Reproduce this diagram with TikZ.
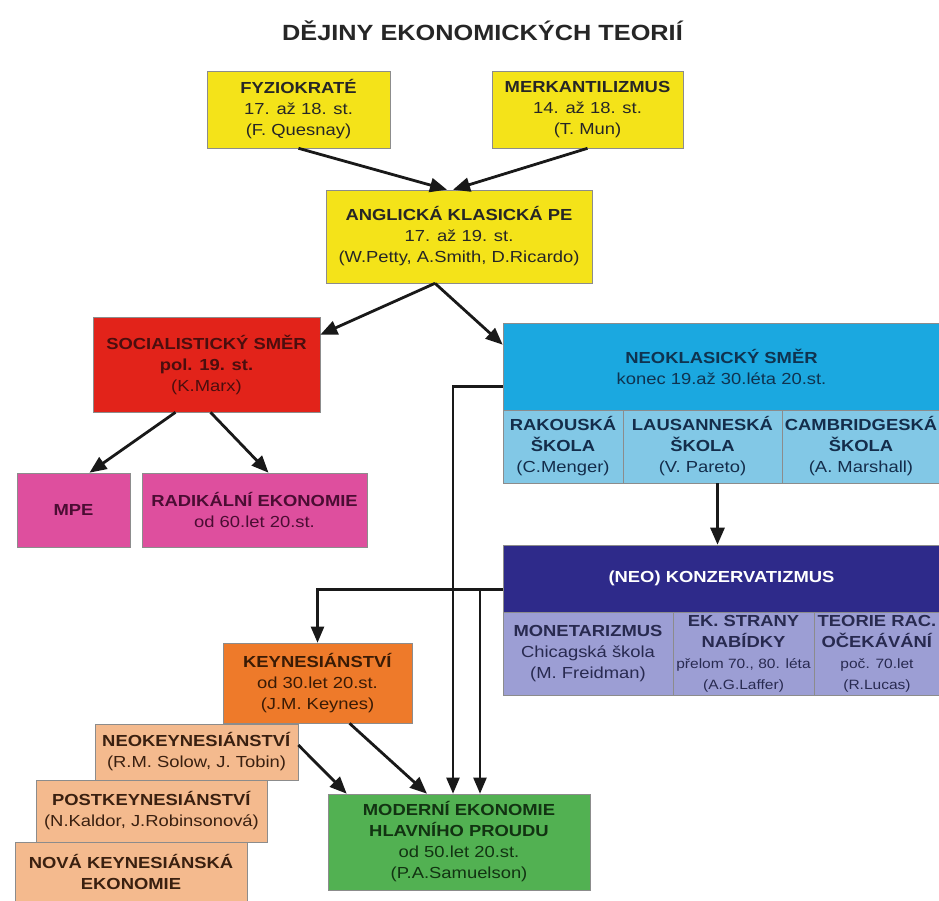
\documentclass[tikz,border=0pt]{standalone}
\usepackage{fontspec}
\setmainfont[FakeStretch=1.15]{Liberation Sans}
\usetikzlibrary{arrows.meta}

\definecolor{zluta}{HTML}{F4E319}
\definecolor{cervena}{HTML}{E2231A}
\definecolor{ruzova}{HTML}{DE4F9E}
\definecolor{azur}{HTML}{1BA8E0}
\definecolor{azursv}{HTML}{82C8E6}
\definecolor{indigo}{HTML}{2E2A8A}
\definecolor{indigosv}{HTML}{9C9ED4}
\definecolor{oranz}{HTML}{EE7A2A}
\definecolor{losos}{HTML}{F4BA8E}
\definecolor{zelena}{HTML}{52B152}

\newcommand{\mensi}{\fontsize{13.5}{17}\selectfont}

\tikzset{
  box/.style={draw=black!45, line width=0.6pt, align=center, inner sep=0pt,
    font=\fontsize{16}{21}\selectfont},
  yelbox/.style={box, fill=zluta, text=black!85},
  redbox/.style={box, fill=cervena, text={rgb,255:red,75;green,14;blue,14}},
  pinkbox/.style={box, fill=ruzova, text={rgb,255:red,75;green,13;blue,51}},
  cyanhead/.style={box, fill=azur, text={rgb,255:red,15;green,51;blue,80}},
  cyancell/.style={box, fill=azursv, text={rgb,255:red,20;green,45;blue,75}},
  navyhead/.style={box, fill=indigo, text=white},
  navycell/.style={box, fill=indigosv, text={rgb,255:red,40;green,42;blue,80}},
  orangebox/.style={box, fill=oranz, text={rgb,255:red,58;green,27;blue,5}},
  salmonbox/.style={box, fill=losos, text={rgb,255:red,58;green,32;blue,16}},
  greenbox/.style={box, fill=zelena, text={rgb,255:red,18;green,51;blue,18}},
  arr/.style={-{Triangle[length=17pt,width=14pt]}, line width=2.8pt, black!90},
  conn/.style={-{Triangle[length=16pt,width=13pt]}, line width=2.2pt, black!90}
}

\begin{document}
\begin{tikzpicture}[x=1pt, y=-1pt]
  \useasboundingbox (0,0) rectangle (939,900);
  \clip (0,0) rectangle (939,900);

  % nadpis
  \node[font=\fontsize{22}{26}\selectfont\bfseries, text=black!85] (title) at (482.5,31)
    {DĚJINY EKONOMICKÝCH TEORIÍ};

  % klasici
  \node[yelbox, minimum width=183, minimum height=77] (fyz) at (298.5,109.5)
    {\textbf{FYZIOKRATÉ}\\17. až 18. st.\\(F. Quesnay)};
  \node[yelbox, minimum width=191, minimum height=77] (merk) at (587.5,109.5)
    {\textbf{MERKANTILIZMUS}\\14. až 18. st.\\(T. Mun)};
  \node[yelbox, minimum width=266, minimum height=93] (angl) at (459,236.5)
    {\textbf{ANGLICKÁ KLASICKÁ PE}\\17. až 19. st.\\(W.Petty, A.Smith, D.Ricardo)};

  % socialisticky smer
  \node[redbox, minimum width=227, minimum height=95] (soc) at (206.5,364.5)
    {\textbf{SOCIALISTICKÝ SMĚR}\\\textbf{pol. 19. st.}\\(K.Marx)};
  \node[pinkbox, minimum width=113, minimum height=74] (mpe) at (73.5,510)
    {\textbf{MPE}};
  \node[pinkbox, minimum width=225, minimum height=74] (rad) at (254.5,510)
    {\textbf{RADIKÁLNÍ EKONOMIE}\\od 60.let 20.st.};

  % neoklasicky smer
  \node[cyanhead, minimum width=437, minimum height=87] (neohead) at (721.5,366.5)
    {\textbf{NEOKLASICKÝ SMĚR}\\konec 19.až 30.léta 20.st.};
  \node[cyancell, minimum width=120, minimum height=73] (rak) at (563,446.5)
    {\textbf{RAKOUSKÁ}\\\textbf{ŠKOLA}\\(C.Menger)};
  \node[cyancell, minimum width=159, minimum height=73] (laus) at (702.5,446.5)
    {\textbf{LAUSANNESKÁ}\\\textbf{ŠKOLA}\\(V. Pareto)};
  \node[cyancell, minimum width=158, minimum height=73] (camb) at (861,446.5)
    {\textbf{CAMBRIDGESKÁ}\\\textbf{ŠKOLA}\\(A. Marshall)};

  % (neo) konzervatizmus
  \node[navyhead, minimum width=437, minimum height=67] (konzhead) at (721.5,578.5)
    {\textbf{(NEO) KONZERVATIZMUS}};
  \node[navycell, minimum width=170, minimum height=83] (mon) at (588,653.5)
    {\textbf{MONETARIZMUS}\\Chicagská škola\\(M. Freidman)};
  \node[navycell, minimum width=141, minimum height=83] (ekstr) at (743.5,653.5)
    {\textbf{EK. STRANY}\\\textbf{NABÍDKY}\\{\mensi přelom 70., 80. léta}\\{\mensi (A.G.Laffer)}};
  \node[navycell, minimum width=126, minimum height=83] (teor) at (877,653.5)
    {\textbf{TEORIE RAC.}\\\textbf{OČEKÁVÁNÍ}\\{\mensi poč. 70.let}\\{\mensi (R.Lucas)}};

  % keynesianstvi
  \node[orangebox, minimum width=189, minimum height=80] (keynes) at (317.5,683)
    {\textbf{KEYNESIÁNSTVÍ}\\od 30.let 20.st.\\(J.M. Keynes)};
  \node[salmonbox, minimum width=203, minimum height=56] (neokeyn) at (196.5,752)
    {\textbf{NEOKEYNESIÁNSTVÍ}\\(R.M. Solow, J. Tobin)};
  \node[salmonbox, minimum width=231, minimum height=62] (postkeyn) at (151.5,811)
    {\textbf{POSTKEYNESIÁNSTVÍ}\\(N.Kaldor, J.Robinsonová)};
  \node[salmonbox, minimum width=232, minimum height=60] (novakeyn) at (131,872)
    {\textbf{NOVÁ KEYNESIÁNSKÁ}\\\textbf{EKONOMIE}};

  % hlavni proud
  \node[greenbox, minimum width=262, minimum height=96] (modern) at (459,842)
    {\textbf{MODERNÍ EKONOMIE}\\\textbf{HLAVNÍHO PROUDU}\\od 50.let 20.st.\\(P.A.Samuelson)};

  % sipky
  \draw[arr] (fyz.south) -- ([xshift=-12pt]angl.north);
  \draw[arr] (merk.south) -- ([xshift=-6pt]angl.north);
  \draw[arr] ([xshift=-24pt]angl.south) -- ([yshift=-18pt]soc.north east);
  \draw[arr] ([xshift=-24pt]angl.south) -- ([yshift=-22pt]neohead.north west);
  \draw[arr] ([xshift=-31pt]soc.south) -- ([xshift=16pt]mpe.north);
  \draw[arr] ([xshift=4pt]soc.south) -- ([xshift=14pt]rad.north);
  \draw[arr] ([xshift=15pt]laus.south) -- ([xshift=15pt]laus.south |- konzhead.north);
  \draw[arr] ([xshift=32pt]keynes.south) -- ([xshift=-32pt]modern.north);
  \draw[arr] ([yshift=7pt]neokeyn.east) -- ([xshift=19pt]modern.north west);

  % spojnice
  \draw[conn] ([yshift=-20pt]neohead.west) -| ([xshift=-6pt]modern.north);
  \draw[conn] ([yshift=-11pt]konzhead.west) -| (keynes.north);
  \draw[conn] ([yshift=-11pt]konzhead.west) -| ([xshift=21pt]modern.north);
\end{tikzpicture}
\end{document}
